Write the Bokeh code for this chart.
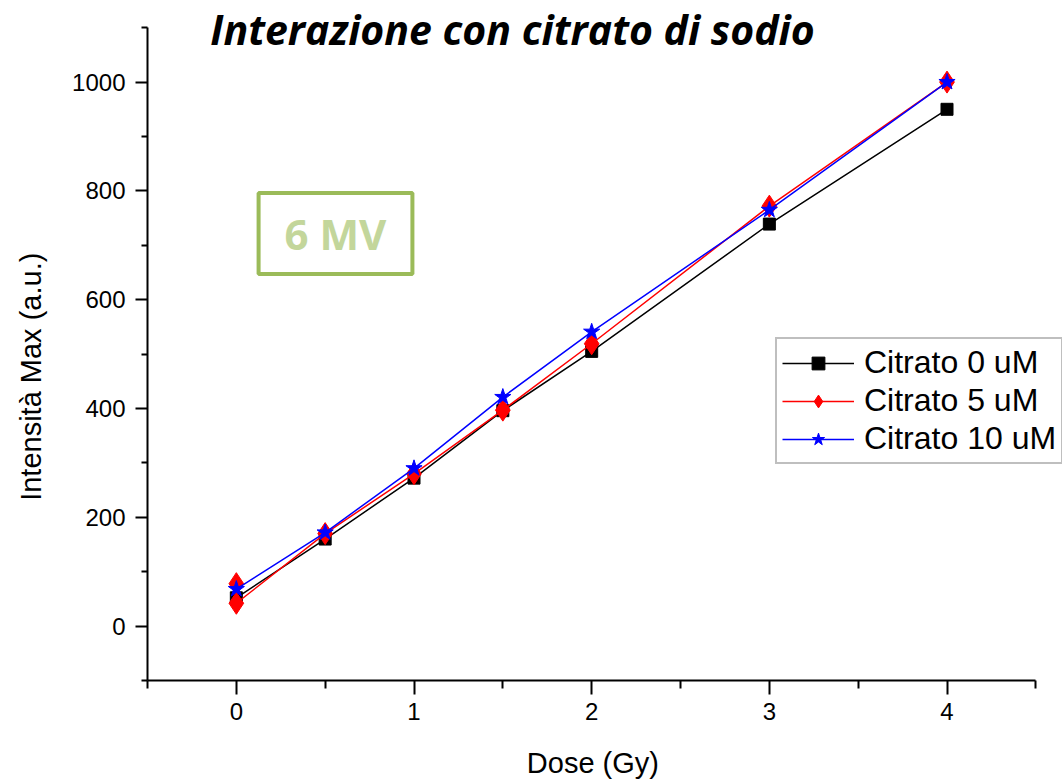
from bokeh.plotting import figure
from bokeh.models import Range1d, FixedTicker, Legend, LegendItem, Label
from bokeh.embed import file_html
from bokeh.resources import INLINE

# Dose (Gy) and maximum intensity for each citrate concentration
dose = [0, 0.5, 1, 1.5, 2, 3, 4]
citrato_0 = [52, 160, 272, 396, 505, 739, 950]

dose_5 = [0, 0, 0.5, 1, 1.5, 2, 3, 4]
citrato_5 = [78, 42, 170, 280, 397, 519, 772, 1000]

citrato_10 = [68, 172, 290, 421, 541, 765, 1000]

series_labels = ["Citrato 0 uM", "Citrato 5 uM", "Citrato 10 uM"]
x_major = [0, 1, 2, 3, 4]
x_minor = [-0.5, 0.5, 1.5, 2.5, 3.5, 4.5]
y_major = [0, 200, 400, 600, 800, 1000]
y_minor = [-100, 100, 300, 500, 700, 900, 1100]

NBSP = "\u00a0"

# the plotting area reaches the top and right edges so the title and the
# legend can overlap the margins; the axes themselves are bounded
p = figure(width=1062, height=783, output_backend="svg", toolbar_location=None,
           x_range=Range1d(-0.5, 4.65), y_range=Range1d(-100, 1150),
           min_border_left=147, min_border_right=0,
           min_border_top=0, min_border_bottom=103)
p.outline_line_color = None
p.xgrid.visible = False
p.ygrid.visible = False

p.xaxis.ticker = FixedTicker(ticks=x_major, minor_ticks=x_minor)
p.yaxis.ticker = FixedTicker(ticks=y_major, minor_ticks=y_minor)
p.xaxis.bounds = (-0.5, 4.5)
p.yaxis.bounds = (-100, 1100)

for ax in (p.xaxis[0], p.yaxis[0]):
    ax.axis_line_width = 2
    ax.major_tick_line_width = 2
    ax.minor_tick_line_width = 2
    ax.major_tick_in = 0
    ax.minor_tick_in = 0
    ax.major_label_text_font = "Liberation Sans"
    ax.major_label_text_font_size = "24px"
    ax.major_label_text_color = "black"
    ax.axis_label_text_font = "Liberation Sans"
    ax.axis_label_text_font_size = "29px"
    ax.axis_label_text_font_style = "normal"
    ax.axis_label_text_color = "black"

# axis titles are centred on the plotting area; trailing no-break spaces
# shift them back to the middle of the bounded axis lines
p.xaxis.major_tick_out = 14
p.xaxis.minor_tick_out = 8
p.xaxis.major_label_standoff = 8
p.xaxis.axis_label = "Dose (Gy)" + NBSP * 3
p.xaxis.axis_label_standoff = 24

p.yaxis.major_tick_out = 12
p.yaxis.minor_tick_out = 6
p.yaxis.major_label_standoff = 10
p.yaxis.axis_label = "Intensità Max (a.u.)" + NBSP * 9
p.yaxis.axis_label_standoff = 22

# series: line plus markers
l0 = p.line(dose, citrato_0, line_color="black", line_width=1.5)
m0 = p.scatter(dose, citrato_0, marker="square", size=12,
               fill_color="black", line_color="black")

l5 = p.line(dose_5, citrato_5, line_color="red", line_width=1.5)
m5 = p.scatter(dose_5, citrato_5, marker="diamond", size=22,
               fill_color="red", line_color="red")

l10 = p.line(dose, citrato_10, line_color="blue", line_width=1.5)
m10 = p.scatter(dose, citrato_10, marker="star", size=17,
                fill_color="blue", line_color="blue")

legend = Legend(items=[
    LegendItem(label=series_labels[0], renderers=[l0, m0]),
    LegendItem(label=series_labels[1], renderers=[l5, m5]),
    LegendItem(label=series_labels[2], renderers=[l10, m10]),
], location=(628, 216))
legend.label_text_font = "Liberation Sans"
legend.label_text_font_size = "32px"
legend.label_text_color = "black"
legend.glyph_width = 72
legend.glyph_height = 32
legend.label_height = 32
legend.label_standoff = 10
legend.spacing = 1
legend.padding = 5
legend.margin = 0
legend.border_line_color = "#808080"
legend.border_line_width = 2
legend.background_fill_alpha = 1
p.add_layout(legend)

title = Label(x=365, y=652, x_units="screen", y_units="screen",
              text="Interazione con citrato di sodio",
              text_font="Open Sans", text_font_style="bold italic",
              text_font_size="41px", text_color="black",
              text_align="center", text_baseline="alphabetic")
p.add_layout(title)

tag = Label(x=188, y=447, x_units="screen", y_units="screen",
            text="6 MV", text_font="Open Sans", text_font_style="bold",
            text_font_size="42px", text_color="#c3d69b",
            text_align="center", text_baseline="middle",
            border_line_color="#9bbb59", border_line_width=4,
            padding=(26, 12))
p.add_layout(tag)

open("out.html", "w").write(file_html(p, INLINE))
